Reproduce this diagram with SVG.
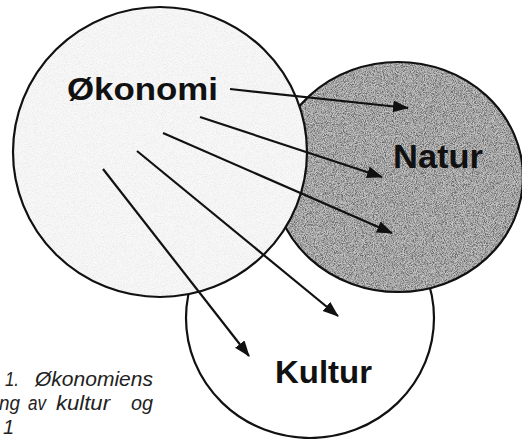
<svg xmlns="http://www.w3.org/2000/svg" width="522" height="439" viewBox="0 0 522 439">
<style>
.ring{stroke:#111;stroke-width:2.2;fill:none}
.lbl{font-family:"Liberation Sans",Arial,sans-serif;font-weight:bold;fill:#111}
.cap{font-family:"Liberation Sans",Arial,sans-serif;font-style:italic;fill:#222;font-size:20px}
.arr{stroke:#111;stroke-width:2.2;fill:none;marker-end:url(#ah)}
</style>
<defs>
<marker id="ah" markerUnits="userSpaceOnUse" markerWidth="18" markerHeight="14" refX="15" refY="6" orient="auto">
<path d="M0,0 L16,6 L0,12 Z" fill="#111"/>
</marker>
<filter id="grainDark" x="0" y="0" width="1" height="1">
<feTurbulence type="fractalNoise" baseFrequency="1.1" numOctaves="2" seed="3" result="n"/>
<feColorMatrix in="n" type="matrix" values="2.2 0 0 0 -0.6  2.2 0 0 0 -0.6  2.2 0 0 0 -0.6  0 0 0 0 1" result="g"/>
<feComposite in="g" in2="SourceGraphic" operator="arithmetic" k1="0" k2="0.45" k3="0.55" k4="0" result="m"/>
<feComposite in="m" in2="SourceGraphic" operator="in"/>
</filter>
<filter id="grainLight" x="0" y="0" width="1" height="1">
<feTurbulence type="fractalNoise" baseFrequency="1.1" numOctaves="2" seed="7" result="n"/>
<feColorMatrix in="n" type="matrix" values="0.8 0 0 0 0.52  0.8 0 0 0 0.52  0.8 0 0 0 0.52  0 0 0 0 1" result="g"/>
<feComposite in="g" in2="SourceGraphic" operator="arithmetic" k1="0" k2="0.4" k3="0.6" k4="0" result="m"/>
<feComposite in="m" in2="SourceGraphic" operator="in"/>
</filter>
</defs>
<rect width="522" height="439" fill="#fff"/>
<g id="kultur">
<ellipse cx="310" cy="318" rx="124" ry="120" fill="#fff"/>
<ellipse class="ring" cx="310" cy="318" rx="124" ry="120"/>
<text class="lbl" x="275" y="383" font-size="32" textLength="97" lengthAdjust="spacingAndGlyphs">Kultur</text>
</g>
<g id="natur">
<ellipse cx="398" cy="177" rx="125" ry="115" fill="#8a8a8a" filter="url(#grainDark)"/>
<ellipse class="ring" cx="398" cy="177" rx="125" ry="115"/>
<text class="lbl" x="393" y="168" font-size="34" textLength="90" lengthAdjust="spacingAndGlyphs">Natur</text>
</g>
<g id="okonomi">
<ellipse cx="160" cy="152" rx="147" ry="145" fill="#f4f4f4" filter="url(#grainLight)"/>
<ellipse class="ring" cx="160" cy="152" rx="147" ry="145"/>
<text class="lbl" x="67" y="100" font-size="32" textLength="151" lengthAdjust="spacingAndGlyphs">Økonomi</text>
</g>
<g id="connectors">
<line class="arr" x1="230" y1="89" x2="408" y2="108"/>
<line class="arr" x1="200" y1="117" x2="382" y2="177"/>
<line class="arr" x1="163" y1="133" x2="392" y2="233"/>
<line class="arr" x1="137" y1="151" x2="338" y2="316"/>
<line class="arr" x1="103" y1="169" x2="249" y2="356"/>
</g>
<g id="caption">
<text class="cap" y="386"><tspan x="5" textLength="14" lengthAdjust="spacingAndGlyphs">1.</tspan><tspan x="35" textLength="118" lengthAdjust="spacingAndGlyphs">Økonomiens</tspan></text>
<text class="cap" y="410"><tspan x="-1" textLength="21" lengthAdjust="spacingAndGlyphs">ng</tspan><tspan x="28" textLength="18" lengthAdjust="spacingAndGlyphs">av</tspan><tspan x="56" textLength="54" lengthAdjust="spacingAndGlyphs">kultur</tspan><tspan x="131" textLength="22" lengthAdjust="spacingAndGlyphs">og</tspan></text>
<text class="cap" x="3" y="434" font-size="11">1</text>
</g>
</svg>
